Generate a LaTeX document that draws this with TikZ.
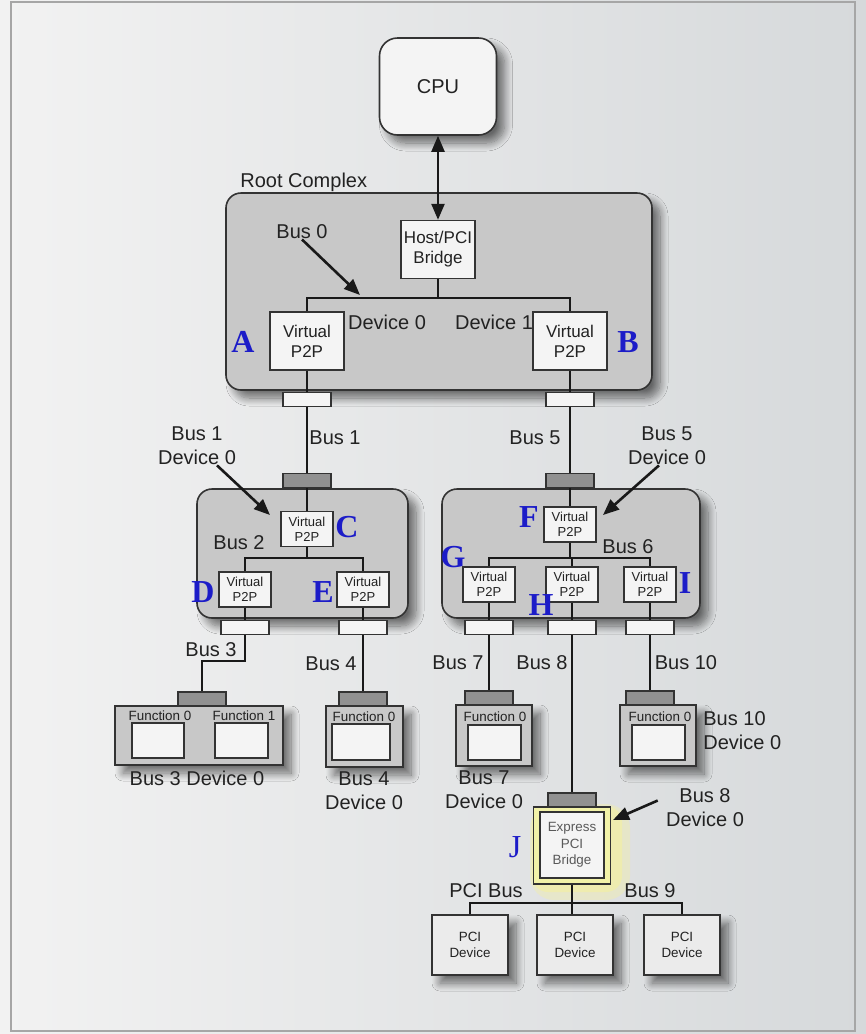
\documentclass[tikz,border=0pt]{standalone}
\usepackage{fontspec}
\setmainfont{Liberation Sans}
\newfontfamily\letterfont{Liberation Serif}
\usetikzlibrary{arrows.meta,shadows.blur}
\definecolor{bgleft}{RGB}{242,242,242}
\definecolor{bgright}{RGB}{214,217,219}
\definecolor{hubgray}{RGB}{200,200,200}
\definecolor{boxwhite}{RGB}{244,244,244}
\definecolor{conngray}{RGB}{145,145,145}
\definecolor{inkgray}{RGB}{34,34,34}
\definecolor{letterblue}{RGB}{28,28,200}
\definecolor{bridgeyellow}{RGB}{242,242,168}
\tikzset{
  shd/.style={blur shadow={shadow xshift=4pt,shadow yshift=-4pt,shadow blur radius=4pt,shadow blur steps=12,shadow opacity=55}},
  hub/.style={draw=black!80,line width=0.8pt,rounded corners=7.5pt,fill=hubgray,shd},
  wire/.style={line width=1.2pt,black!90},
  pointer/.style={line width=1.3pt,black!90,-{Triangle[length=8pt,width=6.5pt]}},
  bigbox/.style={draw=black!80,line width=0.7pt,fill=boxwhite,inner sep=0pt,align=center,
    minimum width=37pt,minimum height=29pt,font=\fontsize{8.5}{10}\selectfont,text=inkgray},
  smallbox/.style={draw=black!80,line width=0.7pt,fill=boxwhite,inner sep=0pt,align=center,
    minimum width=26pt,minimum height=17.5pt,font=\fontsize{6.5}{7.5}\selectfont,text=inkgray},
  port/.style={draw=black!80,line width=0.6pt,fill=boxwhite,minimum width=24pt,minimum height=7pt,inner sep=0pt},
  conn/.style={draw=black!80,line width=0.6pt,fill=conngray,minimum width=24pt,minimum height=7pt,inner sep=0pt},
  device/.style={draw=black!80,line width=0.8pt,fill=hubgray,inner sep=0pt,shd},
  slot/.style={draw=black!80,line width=0.7pt,fill=boxwhite,inner sep=0pt},
  fnlabel/.style={font=\fontsize{6.7}{8}\selectfont,text=inkgray,inner sep=0pt},
  letter/.style={font=\letterfont\bfseries\fontsize{16}{16}\selectfont,text=letterblue,inner sep=0pt},
  lbl/.style={text=inkgray,inner sep=0pt,align=center}
}
\begin{document}
\begin{tikzpicture}[x=0.5pt,y=-0.5pt,>={Triangle[length=8pt,width=6.5pt]},font=\fontsize{10}{12}\selectfont]
  \useasboundingbox (0,0) rectangle (866,1034);
  \shade[left color=bgleft,right color=bgright] (0,0) rectangle (866,1034);
  \draw[black!35,line width=0.8pt] (11,2) rectangle (855,1031);

  % CPU and root complex
  \node[draw=black!80,line width=0.8pt,rounded corners=9pt,fill=boxwhite,minimum width=58.5pt,minimum height=48.5pt,text=inkgray,shd] (cpu) at (438,86.5) {CPU};
  \node[hub,minimum width=213pt,minimum height=98.5pt] (rc) at (439,291.5) {};
  \node[lbl,anchor=west] (rclbl) at (240,182) {Root Complex};
  \node[bigbox] (host) at (438,249.5) {Host/PCI\\Bridge};
  \draw[<->,wire] (cpu) -- (host);
  \node[bigbox] (pA) at (307,341) {Virtual\\P2P};
  \node[bigbox] (pB) at (570,341) {Virtual\\P2P};
  \coordinate (bus0) at (438,298);
  \draw[wire] (host) -- (bus0);
  \draw[wire] (pA) -- (pA |- bus0) -- (pB |- bus0) -- (pB);
  \node[lbl] (b0lbl) at (302,232) {Bus 0};
  \coordinate (b0tip) at (360,295);
  \draw[pointer] (b0lbl.south) -- (b0tip);
  \node[lbl] (dev0lbl) at (387,322) {Device 0};
  \node[lbl] (dev1lbl) at (494,322) {Device 1};
  \node[letter] (lA) at (243,342) {A};
  \node[letter] (lB) at (628,342) {B};

  % switch hubs
  \node[hub,minimum width=105.5pt,minimum height=64.5pt] (sw1) at (302.5,553.5) {};
  \node[hub,minimum width=129pt,minimum height=64.5pt] (sw2) at (571,553.5) {};
  \node[conn] (cn1) at (307,480.5) {};
  \node[conn] (cn5) at (570,480.5) {};
  \draw[wire] (pA) -- (cn1);
  \draw[wire] (pB) -- (cn5);
  \node[port] (ptA) at (307,399.5) {};
  \node[port] (ptB) at (570,399.5) {};
  \node[lbl] (b1lbl) at (335,438) {Bus 1};
  \node[lbl] (b5lbl) at (535,438) {Bus 5};

  % left switch
  \node[smallbox] (pC) at (307,529) {Virtual\\P2P};
  \node[smallbox] (pD) at (245,589.5) {Virtual\\P2P};
  \node[smallbox] (pE) at (363,589.5) {Virtual\\P2P};
  \coordinate (bus2) at (307,558);
  \draw[wire] (cn1) -- (pC);
  \draw[wire] (pC) -- (bus2);
  \draw[wire] (pD) -- (pD |- bus2) -- (pE |- bus2) -- (pE);
  \node[lbl] (b1d0lbl) at (197,446) {Bus 1\\Device 0};
  \coordinate (b1d0tip) at (270,515);
  \draw[pointer] ([xshift=10pt]b1d0lbl.south) -- (b1d0tip);
  \node[lbl] (b2lbl) at (239,543) {Bus 2};
  \node[letter] (lC) at (347,527) {C};
  \node[letter] (lD) at (203,592) {D};
  \node[letter] (lE) at (323,592) {E};

  % right switch
  \node[smallbox] (pF) at (570,524.5) {Virtual\\P2P};
  \node[smallbox] (pG) at (489,584.5) {Virtual\\P2P};
  \node[smallbox] (pH) at (572,584.5) {Virtual\\P2P};
  \node[smallbox] (pI) at (650,584.5) {Virtual\\P2P};
  \coordinate (bus6) at (570,558);
  \draw[wire] (cn5) -- (pF);
  \draw[wire] (pF) -- (bus6);
  \draw[wire] (pG) -- (pG |- bus6) -- (pI |- bus6) -- (pI);
  \draw[wire] (pH.north |- bus6) -- (pH);
  \node[lbl] (b5d0lbl) at (667,446) {Bus 5\\Device 0};
  \coordinate (b5d0tip) at (603,515);
  \draw[pointer] ([xshift=-4pt]b5d0lbl.south) -- (b5d0tip);
  \node[lbl] (b6lbl) at (628,547) {Bus 6};
  \node[letter] (lF) at (529,517) {F};
  \node[letter] (lG) at (453,557) {G};
  \node[letter] (lH) at (541,605) {H};
  \node[letter] (lI) at (685,583) {I};

  % endpoint devices
  \node[device,minimum width=84pt,minimum height=29.5pt] (dev3) at (199,735.5) {};
  \node[slot,minimum width=26pt,minimum height=17.5pt] (f30) at (158,740.5) {};
  \node[slot,minimum width=26.5pt,minimum height=17.5pt] (f31) at (241.5,740.5) {};
  \node[fnlabel] at (160,716) {Function 0};
  \node[fnlabel] at (244,716) {Function 1};
  \node[device,minimum width=38.5pt,minimum height=30.5pt] (dev4) at (364.5,736.5) {};
  \node[slot,minimum width=29pt,minimum height=18pt] (f40) at (361,742) {};
  \node[fnlabel] at (364,717) {Function 0};
  \node[device,minimum width=38pt,minimum height=30.5pt] (dev7) at (494,735.5) {};
  \node[slot,minimum width=26.5pt,minimum height=17.5pt] (f70) at (494.5,742.5) {};
  \node[fnlabel] at (495,717) {Function 0};
  \node[device,minimum width=38pt,minimum height=30.5pt] (dev10) at (658,735.5) {};
  \node[slot,minimum width=26.5pt,minimum height=17.5pt] (f100) at (658.5,742.5) {};
  \node[fnlabel] at (660,717) {Function 0};

  \node[conn] (cn3) at (202,699) {};
  \node[conn] (cn4) at (363,699) {};
  \node[conn] (cn7) at (489,698) {};
  \node[conn] (cn10) at (650,698) {};
  \coordinate (bend3) at (202,661);
  \draw[wire] (pD) |- (bend3) -- (cn3);
  \draw[wire] (pE) -- (cn4);
  \draw[wire] (pG) -- (cn7);
  \draw[wire] (pI) -- (cn10);

  % express bridge and PCI bus
  \fill[yellow!50!white,opacity=0.25,rounded corners=12pt] (530,804) rectangle (630,900);
  \fill[yellow!50!white,opacity=0.35,rounded corners=8pt] (532,806) rectangle (622,892);
  \node[draw=black!80,line width=0.8pt,fill=bridgeyellow,minimum width=38.5pt,minimum height=38.5pt,inner sep=0pt] (xb) at (572,845.5) {};
  \node[draw=black!80,line width=0.7pt,fill=boxwhite,minimum width=32pt,minimum height=33pt,inner sep=0pt,align=center,
    font=\fontsize{6.7}{8.2}\selectfont,text=black!65] (xbi) at (572,845) {Express\\PCI\\Bridge};
  \node[conn] (cn8) at (572,800) {};
  \draw[wire] (pH) -- (cn8);
  \node[port] (ptC) at (245,627.5) {};
  \node[port] (ptE) at (363,627.5) {};
  \node[port] (ptG) at (489,627.5) {};
  \node[port] (ptH) at (572,627.5) {};
  \node[port] (ptI) at (650,627.5) {};
  \node[letter,font=\letterfont\fontsize{16}{16}\selectfont] (lJ) at (515,847) {J};

  \node[device,fill=black!8,minimum width=38pt,minimum height=30pt,align=center,font=\fontsize{6.7}{8.2}\selectfont,text=inkgray] (pd1) at (470,945) {PCI\\Device};
  \node[device,fill=black!8,minimum width=38pt,minimum height=30pt,align=center,font=\fontsize{6.7}{8.2}\selectfont,text=inkgray] (pd2) at (575,945) {PCI\\Device};
  \node[device,fill=black!8,minimum width=38pt,minimum height=30pt,align=center,font=\fontsize{6.7}{8.2}\selectfont,text=inkgray] (pd3) at (682,945) {PCI\\Device};
  \coordinate (pcibus) at (572,903);
  \draw[wire] (xb) -- (pcibus);
  \draw[wire] (pd1) -- (pd1 |- pcibus) -- (pd3 |- pcibus) -- (pd3);
  \draw[wire] (pcibus) -- (pcibus |- pd2.north);

  % bus labels
  \node[lbl] (b3lbl) at (211,650) {Bus 3};
  \node[lbl] (b4lbl) at (331,664) {Bus 4};
  \node[lbl] (b7lbl) at (458,663) {Bus 7};
  \node[lbl] (b8lbl) at (542,663) {Bus 8};
  \node[lbl] (b10lbl) at (686,663) {Bus 10};
  \node[lbl] (b3d0lbl) at (197,778) {Bus 3 Device 0};
  \node[lbl] (b4d0lbl) at (364,791) {Bus 4\\Device 0};
  \node[lbl] (b7d0lbl) at (484,790) {Bus 7\\Device 0};
  \node[lbl,anchor=west,align=left] (b10d0lbl) at (703,731) {Bus 10\\Device 0};
  \node[lbl] (b8d0lbl) at (705,808) {Bus 8\\Device 0};
  \coordinate (b8d0tip) at (613,820);
  \draw[pointer] ([xshift=-4pt,yshift=-6pt]b8d0lbl.north west) -- (b8d0tip);
  \node[lbl] (pcilbl) at (486,891) {PCI Bus};
  \node[lbl] (b9lbl) at (650,891) {Bus 9};
\end{tikzpicture}
\end{document}
